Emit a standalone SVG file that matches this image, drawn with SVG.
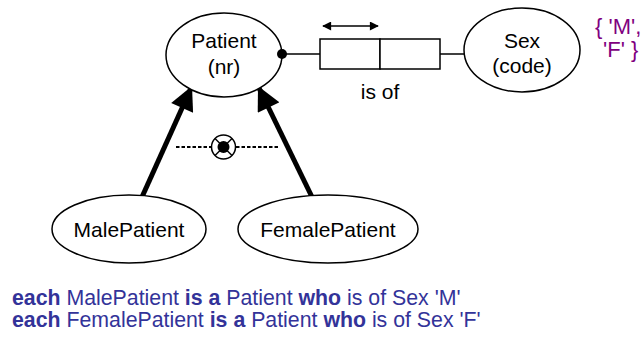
<svg xmlns="http://www.w3.org/2000/svg" width="642" height="337" viewBox="0 0 642 337">
<style>
.node{fill:#fff;stroke:#000;stroke-width:1.5}
.t{font-family:"Liberation Sans",Arial,sans-serif;font-size:21px;fill:#000;text-anchor:middle}
.b{font-family:"Liberation Sans",Arial,sans-serif;font-size:21.3px;fill:#333399}
.b tspan.k{font-weight:bold}
.p{font-family:"Liberation Sans",Arial,sans-serif;font-size:22px;fill:#800080}
.sub{stroke:#000;stroke-width:5;fill:none}
</style>
<defs>
<marker id="ah" viewBox="0 0 10 10" refX="10" refY="5" markerWidth="26" markerHeight="24" orient="auto" markerUnits="userSpaceOnUse">
<path d="M0,0 L10,5 L0,10 z" fill="#000"/>
</marker>
<marker id="sa" viewBox="0 0 10 10" refX="9" refY="5" markerWidth="11" markerHeight="9" orient="auto-start-reverse" markerUnits="userSpaceOnUse">
<path d="M0,0 L10,5 L0,10 z" fill="#000"/>
</marker>
</defs>
<g id="connectors">
<line x1="142" y1="197" x2="192" y2="86" class="sub" marker-end="url(#ah)"/>
<line x1="312" y1="197" x2="258" y2="86" class="sub" marker-end="url(#ah)"/>
<line x1="176" y1="147" x2="211" y2="147" stroke="#000" stroke-width="2" stroke-dasharray="3.5,2"/>
<line x1="236" y1="147" x2="278" y2="147" stroke="#000" stroke-width="2" stroke-dasharray="3.5,2"/>
<line x1="282" y1="54" x2="320" y2="54" stroke="#000" stroke-width="1.5"/>
<line x1="440" y1="54" x2="464" y2="54" stroke="#000" stroke-width="1.5"/>
</g>
<g id="xor">
<circle cx="223.5" cy="147" r="12" fill="#fff" stroke="#000" stroke-width="1.5"/>
<line x1="215" y1="138.5" x2="232" y2="155.5" stroke="#000" stroke-width="1.5"/>
<line x1="232" y1="138.5" x2="215" y2="155.5" stroke="#000" stroke-width="1.5"/>
<circle cx="223.5" cy="147" r="6" fill="#000"/>
</g>
<g id="Patient">
<ellipse cx="224" cy="55" rx="58" ry="42" class="node"/>
<text x="224" y="48" class="t">Patient</text>
<text x="224" y="74" class="t">(nr)</text>
<circle cx="282" cy="54" r="5" fill="#000"/>
</g>
<g id="fact-isof">
<rect x="320" y="39" width="60" height="30" fill="#fff" stroke="#000" stroke-width="1.5"/>
<rect x="380" y="39" width="60" height="30" fill="#fff" stroke="#000" stroke-width="1.5"/>
<line x1="323" y1="26" x2="378" y2="26" stroke="#000" stroke-width="1.5" marker-start="url(#sa)" marker-end="url(#sa)"/>
<text x="380" y="99" class="t">is of</text>
</g>
<g id="Sex">
<ellipse cx="522" cy="50" rx="58" ry="42" class="node"/>
<text x="522" y="48" class="t">Sex</text>
<text x="522" y="73" class="t">(code)</text>
<text x="595" y="34" class="p">{ 'M',</text>
<text x="603" y="57" class="p">'F' }</text>
</g>
<g id="MalePatient">
<ellipse cx="129" cy="229" rx="77" ry="34" class="node"/>
<text x="129" y="237" class="t">MalePatient</text>
</g>
<g id="FemalePatient">
<ellipse cx="328" cy="229" rx="90" ry="34" class="node"/>
<text x="328" y="237" class="t">FemalePatient</text>
</g>
<g id="rules">
<text x="12" y="305" class="b"><tspan class="k">each</tspan> MalePatient <tspan class="k">is a</tspan> Patient <tspan class="k">who</tspan> is of Sex 'M'</text>
<text x="12" y="327" class="b"><tspan class="k">each</tspan> FemalePatient <tspan class="k">is a</tspan> Patient <tspan class="k">who</tspan> is of Sex 'F'</text>
</g>
</svg>
